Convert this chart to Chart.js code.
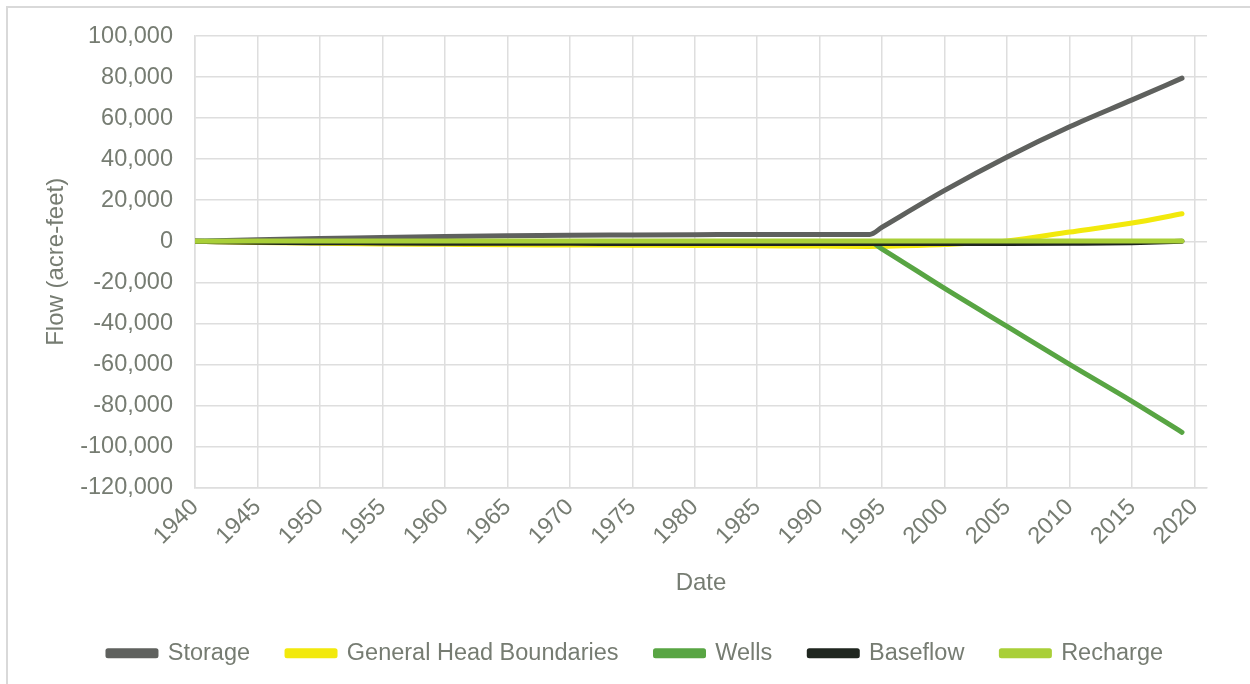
<!DOCTYPE html>
<html>
<head>
<meta charset="utf-8">
<script src="https://cdn.jsdelivr.net/npm/chart.js@4.4.1/dist/chart.umd.min.js"></script>
<style>
  html, body { margin: 0; padding: 0; background: #ffffff; }
  #wrap { position: relative; width: 1250px; height: 684px; overflow: hidden; }
  #frame { position: absolute; left: 6px; top: 6px; width: 1400px; height: 800px;
           border-left: 2px solid #d9d9d9; border-top: 2px solid #d9d9d9; }
  canvas { position: absolute; left: 0; top: 0; }
</style>
</head>
<body>
<div id="wrap">
  <div id="frame"></div>
  <canvas id="c" width="1250" height="684"></canvas>
</div>
<script>
// ---- data ----
const years = [1940, 1945, 1950, 1955, 1960, 1965, 1970, 1975, 1980, 1985, 1990, 1994, 1995, 2000, 2005, 2010, 2015, 2019];
const storage  = [0, 800, 1400, 1800, 2300, 2700, 3000, 3100, 3200, 3300, 3300, 3300, 6900, 24800, 41100, 55800, 68900, 79500];
const ghb      = [0, -600, -1000, -1300, -1500, -1700, -1800, -1900, -2000, -2200, -2300, -2500, -2400, -1600, 200, 4500, 8900, 13400];
const wells    = [0, -100, -100, -100, -100, -100, -100, -100, -100, -100, -100, -200, -3800, -23000, -41500, -60000, -78000, -93100];
const baseflow = [0, -500, -700, -800, -900, -1000, -1000, -1100, -1100, -1100, -1100, -1100, -1100, -1100, -1100, -1000, -700, 0];
const recharge = [0, 100, 100, 100, 100, 100, 100, 100, 100, 100, 100, 100, 100, 100, 100, 100, 100, 100];
const seriesNames = ['Storage', 'General Head Boundaries', 'Wells', 'Baseflow', 'Recharge'];
const xTicks = [1940, 1945, 1950, 1955, 1960, 1965, 1970, 1975, 1980, 1985, 1990, 1995, 2000, 2005, 2010, 2015, 2020];
const yMin = -120000, yMax = 100000, yStep = 20000;
const xTitle = 'Date';
const yTitle = 'Flow (acre-feet)';

const colors = ['#5f615e', '#f2e90c', '#58a543', '#1f261f', '#a9cf38'];
const seriesValues = [storage, ghb, wells, baseflow, recharge];

const textColor = '#767c72';
const gridColor = '#dedede';
const fontFamily = '"Liberation Sans", Arial, sans-serif';

function pts(vals) { return years.map((y, i) => ({ x: y, y: vals[i] })); }

// datasets listed in reverse so Recharge is drawn on top (like the original), legend reversed back
const datasets = [];
for (let i = seriesNames.length - 1; i >= 0; i--) {
  datasets.push({
    label: seriesNames[i],
    data: pts(seriesValues[i]),
    borderColor: colors[i],
    backgroundColor: colors[i],
    borderWidth: 5,
    pointRadius: 0,
    borderCapStyle: 'round',
    borderJoinStyle: 'round',
    cubicInterpolationMode: 'monotone',
    fill: false
  });
}

const shiftLegend = {
  id: 'shiftLegend',
  afterLayout(chart) {
    const lg = chart.legend;
    const dx = 32, dy = -3;
    lg.left += dx; lg.right += dx; lg.top += dy; lg.bottom += dy;
  }
};

new Chart(document.getElementById('c'), {
  type: 'line',
  data: { datasets },
  plugins: [shiftLegend],
  options: {
    responsive: false,
    animation: false,
    devicePixelRatio: 1,
    layout: { padding: { left: 0, right: 43, top: 36, bottom: 6 } },
    plugins: {
      tooltip: { enabled: false },
      legend: {
        position: 'bottom',
        reverse: true,
        labels: {
          color: textColor,
          font: { family: fontFamily, size: 23.5 },
          boxWidth: 48,
          boxHeight: 5,
          padding: 37
        }
      }
    },
    scales: {
      x: {
        type: 'linear',
        min: 1940,
        max: 2021,
        afterBuildTicks(scale) { scale.ticks = xTicks.map(v => ({ value: v })); },
        afterFit(scale) { scale.height = 120; },
        ticks: {
          autoSkip: false,
          minRotation: 45,
          maxRotation: 45,
          padding: 6,
          color: textColor,
          font: { family: fontFamily, size: 23.5 },
          callback: (v) => String(v)
        },
        grid: { color: gridColor, lineWidth: 1.5, drawTicks: false },
        border: { color: gridColor, width: 1.5 },
        title: {
          display: true, text: xTitle, color: textColor,
          font: { family: fontFamily, size: 24 },
          padding: { top: 0, bottom: 10 }
        }
      },
      y: {
        min: yMin, max: yMax,
        afterFit(scale) { scale.width = 195; },
        ticks: {
          stepSize: yStep,
          padding: 22,
          color: textColor,
          font: { family: fontFamily, size: 23.5 },
          callback: (v) => v.toLocaleString('en-US')
        },
        grid: { color: gridColor, lineWidth: 1.5, drawTicks: false },
        border: { color: gridColor, width: 1.5 },
        title: {
          display: true, text: yTitle, color: textColor,
          font: { family: fontFamily, size: 24 },
          padding: { top: 42, bottom: 0 }
        }
      }
    }
  }
});
</script>
</body>
</html>
